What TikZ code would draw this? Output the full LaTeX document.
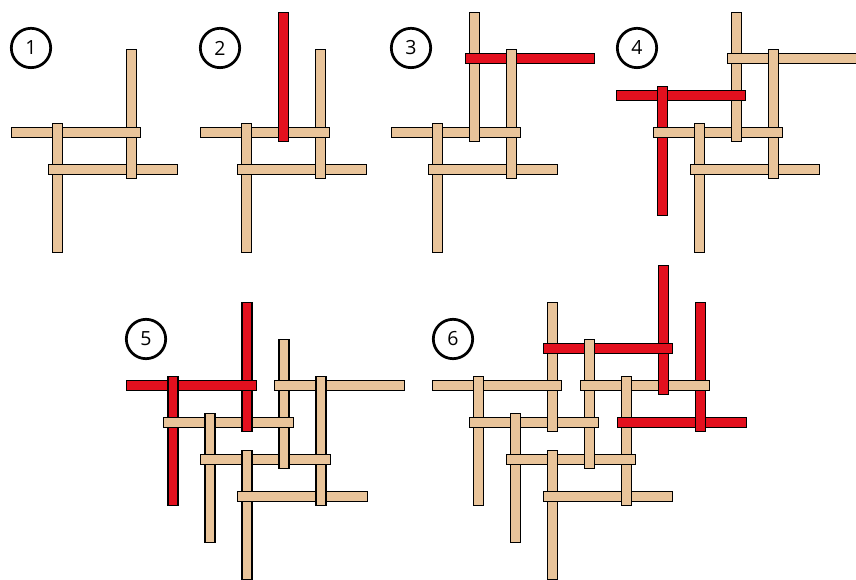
\documentclass[tikz,border=0pt]{standalone}
\usepackage{fontspec}
\setmainfont{Open Sans}
\usepackage{tikz}
\usepackage{xcolor}
\definecolor{woodTan}{HTML}{E9C49A}
\definecolor{woodRed}{HTML}{E3101E}

\tikzset{
  stick/.style={draw=black, line width=1pt},
  stepnum/.style={circle, draw=black, line width=2.1pt, minimum size=1.064cm, inner sep=0pt,
    font=\fontsize{15pt}{18pt}\selectfont},
}

\newcommand{\drawweave}[2]{%
  \foreach \r/\k/\c in {#1}
    \filldraw[stick, fill=\c] (\k-0.25,\r-0.135) rectangle (\k+3.25,\r+0.135);
  \foreach \q/\k/\c in {#2}
    \filldraw[stick, fill=\c] (\q-0.135,\k-0.25) rectangle (\q+0.135,\k+3.25);
  \foreach \r/\k/\c in {#1} {
    \fill[\c] (\k-0.25,\r-0.135) rectangle (\k+0.45,\r+0.135);
    \fill[\c] (\k+2.55,\r-0.135) rectangle (\k+3.25,\r+0.135);
    \draw[stick] (\k+0.45,\r-0.135) -| (\k-0.25,\r+0.135) -- (\k+0.45,\r+0.135);
    \draw[stick] (\k+2.55,\r-0.135) -| (\k+3.25,\r+0.135) -- (\k+2.55,\r+0.135);
  }
  \foreach \q/\k/\c in {#2} {
    \fill[\c] (\q-0.135,\k-0.25) rectangle (\q+0.135,\k+0.45);
    \fill[\c] (\q-0.135,\k+2.55) rectangle (\q+0.135,\k+3.25);
    \draw[stick] (\q-0.135,\k+0.45) |- (\q+0.135,\k-0.25) -- (\q+0.135,\k+0.45);
    \draw[stick] (\q-0.135,\k+2.55) |- (\q+0.135,\k+3.25) -- (\q+0.135,\k+2.55);
  }
}

\begin{document}
\begin{tikzpicture}[x=1cm, y=-1cm]
  \useasboundingbox (0,0) rectangle (23.135,15.649);
  \clip (0,0) rectangle (23.135,15.649);
  \fill[white] (0,0) rectangle (23.135,15.649);

  \node[stepnum] (n1) at (0.838,1.297) {1};
  \node[stepnum] (n2) at (5.946,1.297) {2};
  \node[stepnum] (n3) at (11.108,1.297) {3};
  \node[stepnum] (n4) at (17.216,1.297) {4};
  \node[stepnum] (n5) at (3.946,9.162) {5};
  \node[stepnum] (n6) at (12.243,9.162) {6};

  \begin{scope}[shift={(1.554,2.581)}]
    \drawweave{1/-1/woodTan, 2/0/woodTan}{0/1/woodTan, 2/-1/woodTan}
  \end{scope}
  \begin{scope}[shift={(6.662,2.581)}]
    \drawweave{1/-1/woodTan, 2/0/woodTan}{0/1/woodTan, 2/-1/woodTan, 1/-2/woodRed}
  \end{scope}
  \begin{scope}[shift={(11.824,2.581)}]
    \drawweave{1/-1/woodTan, 2/0/woodTan, -1/1/woodRed}{0/1/woodTan, 2/-1/woodTan, 1/-2/woodTan}
  \end{scope}
  \begin{scope}[shift={(18.905,2.581)}]
    \drawweave{1/-1/woodTan, 2/0/woodTan, -1/1/woodTan, 0/-2/woodRed}{0/1/woodTan, 2/-1/woodTan, 1/-2/woodTan, -1/0/woodRed}
  \end{scope}
  \begin{scope}[shift={(5.676,10.419)}]
    \drawweave{0/-2/woodRed, 0/2/woodTan, 1/-1/woodTan, 2/0/woodTan, 3/1/woodTan}{-1/0/woodRed, 1/-2/woodRed, 0/1/woodTan, 2/-1/woodTan, 3/0/woodTan, 1/2/woodTan}
  \end{scope}
  \begin{scope}[shift={(12.932,9.419)}]
    \drawweave{1/-1/woodTan, 1/3/woodTan, 2/0/woodTan, 2/4/woodRed, 3/1/woodTan, 4/2/woodTan, 0/2/woodRed}{0/1/woodTan, 1/2/woodTan, 2/-1/woodTan, 2/3/woodTan, 3/0/woodTan, 4/1/woodTan, 5/-2/woodRed, 6/-1/woodRed}
  \end{scope}
\end{tikzpicture}
\end{document}
